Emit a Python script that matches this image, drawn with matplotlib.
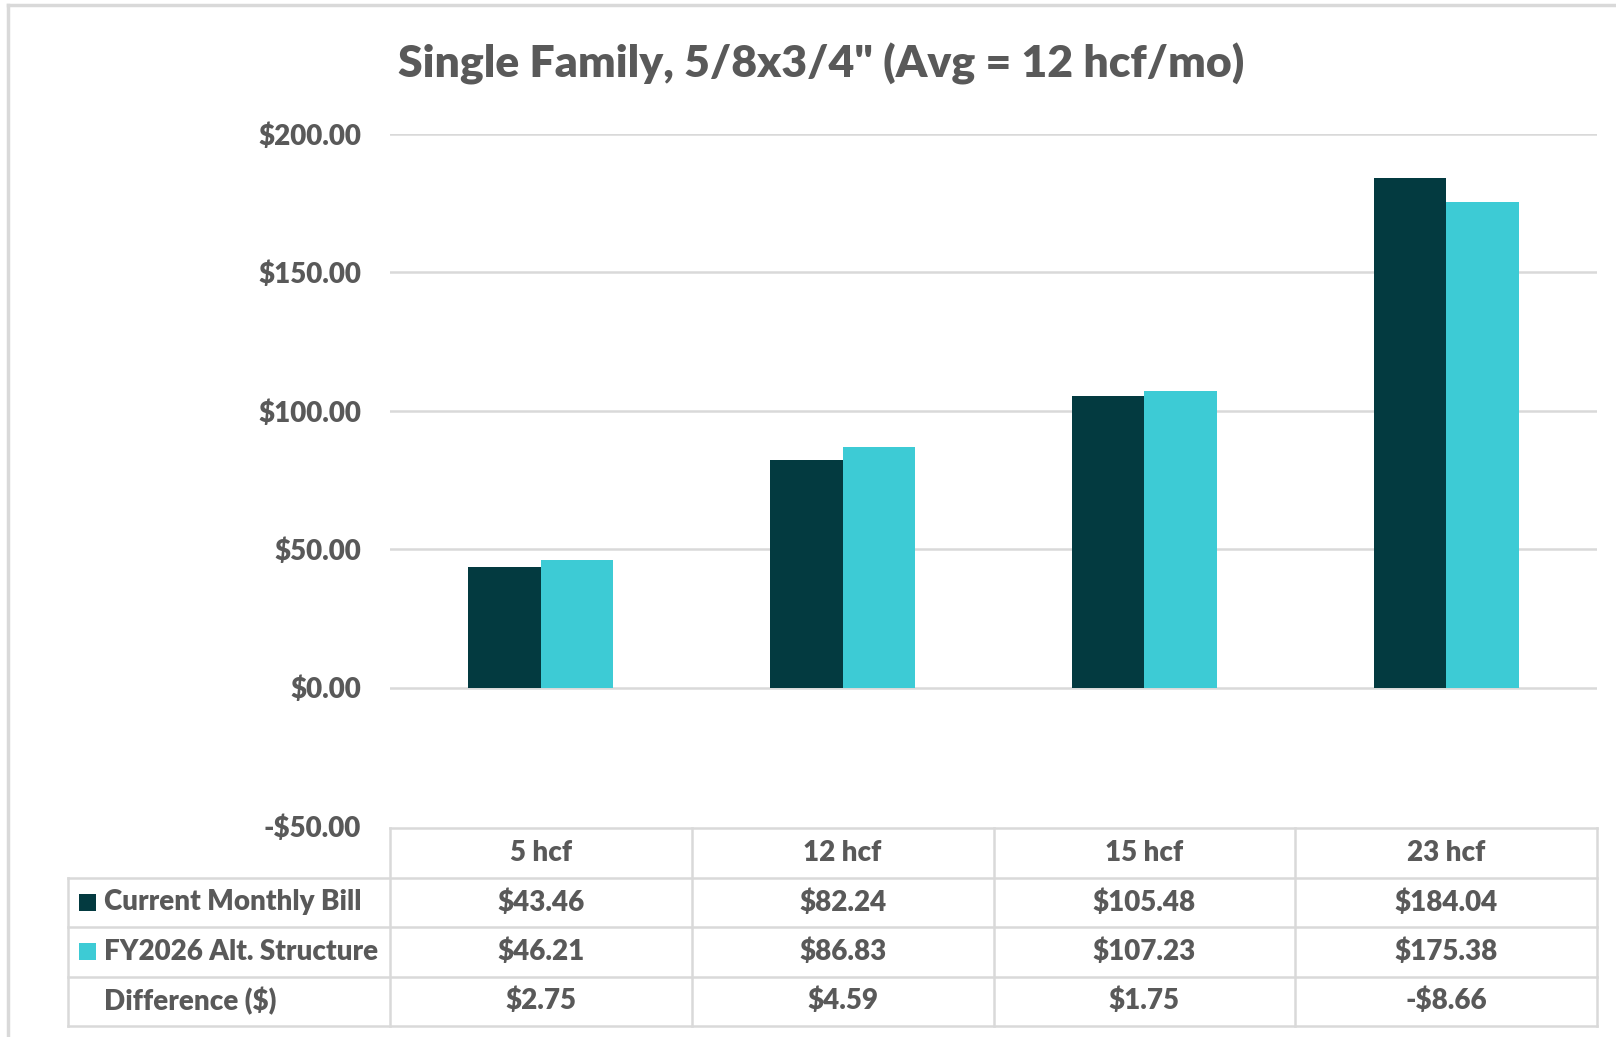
import matplotlib.pyplot as plt
import matplotlib.patches as mpatches
import numpy as np

# Data
categories = ['5 hcf', '12 hcf', '15 hcf', '23 hcf']
current_bill = [43.46, 82.24, 105.48, 184.04]
alt_structure = [46.21, 86.83, 107.23, 175.38]
difference = [2.75, 4.59, 1.75, -8.66]
series_names = ['Current Monthly Bill', 'FY2026 Alt. Structure', 'Difference ($)']
y_ticks = [-50, 0, 50, 100, 150, 200]

dark = '#033A40'
light = '#3DCBD5'
grid_c = '#D9D9D9'
text_c = '#595959'
font = 'Lato'
weight = 'heavy'

W, H = 1616, 1037
fig = plt.figure(figsize=(W / 100, H / 100), dpi=100)
fig.patch.set_facecolor('white')

def fx(px):
    return px / W

def fy(py):
    return 1 - py / H

def money(v):
    return f'-${abs(v):.2f}' if v < 0 else f'${v:.2f}'

# Outer chart border (top + left visible)
fig.add_artist(plt.Line2D([fx(8), 1], [fy(5), fy(5)], color=grid_c, lw=2.5))
fig.add_artist(plt.Line2D([fx(8), fx(8)], [fy(5), 0], color=grid_c, lw=2.5))

# Main bar axes
ax = fig.add_axes([fx(390), fy(826), fx(1597) - fx(390), fy(134) - fy(826)])
x = np.arange(len(categories))
bw = 0.24
ax.bar(x - bw / 2, current_bill, bw, color=dark, zorder=3)
ax.bar(x + bw / 2, alt_structure, bw, color=light, zorder=3)
ax.set_xlim(-0.5, len(categories) - 0.5)
ax.set_ylim(-50, 200)
ax.set_yticks(y_ticks)
ax.set_yticklabels([money(v) for v in y_ticks],
                   fontsize=20, fontweight=weight, color=text_c, family=font)
ax.tick_params(axis='y', length=0, pad=21)
ax.set_xticks([])
for v in y_ticks:
    if v > -50:
        ax.axhline(v, color=grid_c, lw=1.8, zorder=1)
for s in ax.spines.values():
    s.set_visible(False)

fig.text(fx(821), fy(64), 'Single Family, 5/8x3/4" (Avg = 12 hcf/mo)',
         ha='center', va='center', fontsize=32, fontweight=weight, color=text_c, family=font)

# Data table under the chart
tab = fig.add_axes([fx(68), fy(1026), fx(1597) - fx(68), fy(828) - fy(1026)])
unit = (1597 - 390) / len(categories)
label_w = (390 - 68) / unit
left = -0.5 - label_w
right = len(categories) - 0.5
tab.set_xlim(left, right)
tab.set_ylim(4, 0)
tab.axis('off')
lw = 1.8
tab.plot([-0.5, right], [0, 0], color=grid_c, lw=lw, clip_on=False)
for r in range(1, 5):
    tab.plot([left, right], [r, r], color=grid_c, lw=lw, clip_on=False)
tab.plot([left, left], [1, 4], color=grid_c, lw=lw, clip_on=False)
for c in range(len(categories) + 1):
    tab.plot([c - 0.5] * 2, [0, 4], color=grid_c, lw=lw, clip_on=False)

tkw = dict(fontsize=20, fontweight=weight, color=text_c, family=font, va='center')
for i, cat in enumerate(categories):
    tab.text(i, 0.5, cat, ha='center', **tkw)
rows = [current_bill, alt_structure, difference]
for r, vals in enumerate(rows):
    for i, v in enumerate(vals):
        tab.text(i, r + 1.5, money(v), ha='center', **tkw)

# Row labels with legend keys
key_x0 = left + (79 - 68) / unit
key_w = 17 / unit
txt_x = left + (104 - 68) / unit
for r, (name, col) in enumerate(zip(series_names, [dark, light, None])):
    if col is not None:
        tab.add_patch(mpatches.Rectangle((key_x0, r + 1.5 - 0.17), key_w, 0.34,
                                         facecolor=col, edgecolor='none'))
    tab.text(txt_x, r + 1.5, name, ha='left', **tkw)

plt.savefig('out.png', dpi=100, facecolor='white')
